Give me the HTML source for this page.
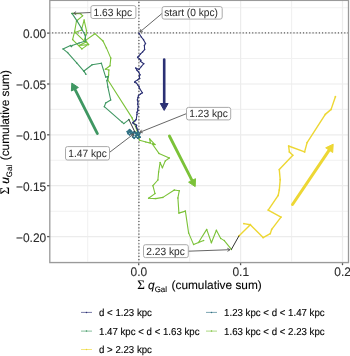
<!DOCTYPE html>
<html><head><meta charset="utf-8"><style>html,body{margin:0;padding:0;background:#fff;}svg{display:block;text-rendering:geometricPrecision;filter:blur(0.25px);}</style></head><body>
<svg width="350" height="356" viewBox="0 0 350 356" font-family='"Liberation Sans", Arial, sans-serif'>
<rect width="350" height="356" fill="#ffffff"/>
<line x1="87.7" y1="0.5" x2="87.7" y2="262.5" stroke="#f1f1f1" stroke-width="1.1"/>
<line x1="189.7" y1="0.5" x2="189.7" y2="262.5" stroke="#f1f1f1" stroke-width="1.1"/>
<line x1="291.6" y1="0.5" x2="291.6" y2="262.5" stroke="#f1f1f1" stroke-width="1.1"/>
<line x1="49.5" y1="7.7" x2="348.5" y2="7.7" stroke="#f1f1f1" stroke-width="1.1"/>
<line x1="49.5" y1="58.5" x2="348.5" y2="58.5" stroke="#f1f1f1" stroke-width="1.1"/>
<line x1="49.5" y1="109.4" x2="348.5" y2="109.4" stroke="#f1f1f1" stroke-width="1.1"/>
<line x1="49.5" y1="160.3" x2="348.5" y2="160.3" stroke="#f1f1f1" stroke-width="1.1"/>
<line x1="49.5" y1="211.2" x2="348.5" y2="211.2" stroke="#f1f1f1" stroke-width="1.1"/>
<line x1="49.5" y1="262.0" x2="348.5" y2="262.0" stroke="#f1f1f1" stroke-width="1.1"/>
<line x1="138.7" y1="0.5" x2="138.7" y2="262.5" stroke="#ececec" stroke-width="1.2"/>
<line x1="240.6" y1="0.5" x2="240.6" y2="262.5" stroke="#ececec" stroke-width="1.2"/>
<line x1="342.5" y1="0.5" x2="342.5" y2="262.5" stroke="#ececec" stroke-width="1.2"/>
<line x1="49.5" y1="33.1" x2="348.5" y2="33.1" stroke="#ececec" stroke-width="1.2"/>
<line x1="49.5" y1="84.0" x2="348.5" y2="84.0" stroke="#ececec" stroke-width="1.2"/>
<line x1="49.5" y1="134.8" x2="348.5" y2="134.8" stroke="#ececec" stroke-width="1.2"/>
<line x1="49.5" y1="185.7" x2="348.5" y2="185.7" stroke="#ececec" stroke-width="1.2"/>
<line x1="49.5" y1="236.6" x2="348.5" y2="236.6" stroke="#ececec" stroke-width="1.2"/>
<line x1="49.5" y1="32.85" x2="348.5" y2="32.85" stroke="#5c5c5c" stroke-width="1.3" stroke-dasharray="1.15 2.025" stroke-dashoffset="0.550"/>
<line x1="138.9" y1="0.5" x2="138.9" y2="262.5" stroke="#5c5c5c" stroke-width="1.3" stroke-dasharray="1.15 2.025" stroke-dashoffset="1.850"/>
<line x1="164.2" y1="59.6" x2="164.2" y2="104.5" stroke="#2b3074" stroke-width="2.6" stroke-linecap="round"/><polygon points="164.2,110.4 160.3,103.5 168.1,103.5" fill="#2b3074" stroke="#2b3074" stroke-width="1" stroke-linejoin="round"/>
<line x1="97.4" y1="133.6" x2="74.5" y2="88.4" stroke="#3f9762" stroke-width="2.8" stroke-linecap="round"/><polygon points="71.8,83.1 78.4,87.5 71.4,91.0" fill="#3f9762" stroke="#3f9762" stroke-width="1" stroke-linejoin="round"/>
<line x1="169.4" y1="136.0" x2="192.5" y2="181.3" stroke="#7bc238" stroke-width="2.8" stroke-linecap="round"/><polygon points="195.2,186.6 188.6,182.2 195.5,178.7" fill="#7bc238" stroke="#7bc238" stroke-width="1" stroke-linejoin="round"/>
<line x1="292.5" y1="204.5" x2="329.7" y2="149.3" stroke="#edd734" stroke-width="3.0" stroke-linecap="round"/><polygon points="333.2,144.2 332.7,152.5 325.7,147.8" fill="#edd734" stroke="#edd734" stroke-width="1" stroke-linejoin="round"/>
<polyline points="72.0,13.4 80.6,13.7 82.6,15.8 76.5,21.0 74.7,31.2 72.6,39.6 81.9,48.9 88.4,44.4 84.8,39.2 86.1,34.5 86.5,30.7 84.1,20.1 81.5,29.9 75.2,32.4 85.6,42.3 79.0,45.5 88.6,44.6 84.9,40.9 94.9,33.7 103.0,41.0 106.4,47.9 110.8,58.1 110.0,65.7 105.4,69.3 108.9,70.0 108.6,75.0 107.9,80.0 132.1,117.9 137.1,130.7 138.4,137.4 139.6,140.3 145.9,142.0 150.4,143.1 149.6,138.9 155.0,144.6 152.1,143.7 159.0,153.4 169.3,158.0 165.3,160.9 162.4,167.7 160.1,162.6 158.6,172.1 157.9,180.0 152.9,185.7 155.0,193.6 148.6,198.3 155.7,198.6 162.9,197.4 174.3,190.0 179.3,190.7 177.9,197.9 178.9,213.1 185.4,211.1 188.6,232.9 193.6,244.6 203.6,240.6 198.5,242.5 206.7,229.4 211.4,242.7 216.4,230.3 220.7,238.4 224.3,240.6 231.4,249.4" fill="none" stroke="#7bc238" stroke-width="1.1" stroke-linejoin="round" stroke-linecap="round"/>
<circle cx="72.0" cy="13.4" r="0.75" fill="#7bc238"/><circle cx="80.6" cy="13.7" r="0.75" fill="#7bc238"/><circle cx="82.6" cy="15.8" r="0.75" fill="#7bc238"/><circle cx="76.5" cy="21.0" r="0.75" fill="#7bc238"/><circle cx="74.7" cy="31.2" r="0.75" fill="#7bc238"/><circle cx="72.6" cy="39.6" r="0.75" fill="#7bc238"/><circle cx="81.9" cy="48.9" r="0.75" fill="#7bc238"/><circle cx="88.4" cy="44.4" r="0.75" fill="#7bc238"/><circle cx="84.8" cy="39.2" r="0.75" fill="#7bc238"/><circle cx="86.1" cy="34.5" r="0.75" fill="#7bc238"/><circle cx="86.5" cy="30.7" r="0.75" fill="#7bc238"/><circle cx="84.1" cy="20.1" r="0.75" fill="#7bc238"/><circle cx="81.5" cy="29.9" r="0.75" fill="#7bc238"/><circle cx="75.2" cy="32.4" r="0.75" fill="#7bc238"/><circle cx="85.6" cy="42.3" r="0.75" fill="#7bc238"/><circle cx="79.0" cy="45.5" r="0.75" fill="#7bc238"/><circle cx="88.6" cy="44.6" r="0.75" fill="#7bc238"/><circle cx="84.9" cy="40.9" r="0.75" fill="#7bc238"/><circle cx="94.9" cy="33.7" r="0.75" fill="#7bc238"/><circle cx="103.0" cy="41.0" r="0.75" fill="#7bc238"/><circle cx="106.4" cy="47.9" r="0.75" fill="#7bc238"/><circle cx="110.8" cy="58.1" r="0.75" fill="#7bc238"/><circle cx="110.0" cy="65.7" r="0.75" fill="#7bc238"/><circle cx="105.4" cy="69.3" r="0.75" fill="#7bc238"/><circle cx="108.9" cy="70.0" r="0.75" fill="#7bc238"/><circle cx="108.6" cy="75.0" r="0.75" fill="#7bc238"/><circle cx="107.9" cy="80.0" r="0.75" fill="#7bc238"/><circle cx="132.1" cy="117.9" r="0.75" fill="#7bc238"/><circle cx="137.1" cy="130.7" r="0.75" fill="#7bc238"/><circle cx="138.4" cy="137.4" r="0.75" fill="#7bc238"/><circle cx="139.6" cy="140.3" r="0.75" fill="#7bc238"/><circle cx="145.9" cy="142.0" r="0.75" fill="#7bc238"/><circle cx="150.4" cy="143.1" r="0.75" fill="#7bc238"/><circle cx="149.6" cy="138.9" r="0.75" fill="#7bc238"/><circle cx="155.0" cy="144.6" r="0.75" fill="#7bc238"/><circle cx="152.1" cy="143.7" r="0.75" fill="#7bc238"/><circle cx="159.0" cy="153.4" r="0.75" fill="#7bc238"/><circle cx="169.3" cy="158.0" r="0.75" fill="#7bc238"/><circle cx="165.3" cy="160.9" r="0.75" fill="#7bc238"/><circle cx="162.4" cy="167.7" r="0.75" fill="#7bc238"/><circle cx="160.1" cy="162.6" r="0.75" fill="#7bc238"/><circle cx="158.6" cy="172.1" r="0.75" fill="#7bc238"/><circle cx="157.9" cy="180.0" r="0.75" fill="#7bc238"/><circle cx="152.9" cy="185.7" r="0.75" fill="#7bc238"/><circle cx="155.0" cy="193.6" r="0.75" fill="#7bc238"/><circle cx="148.6" cy="198.3" r="0.75" fill="#7bc238"/><circle cx="155.7" cy="198.6" r="0.75" fill="#7bc238"/><circle cx="162.9" cy="197.4" r="0.75" fill="#7bc238"/><circle cx="174.3" cy="190.0" r="0.75" fill="#7bc238"/><circle cx="179.3" cy="190.7" r="0.75" fill="#7bc238"/><circle cx="177.9" cy="197.9" r="0.75" fill="#7bc238"/><circle cx="178.9" cy="213.1" r="0.75" fill="#7bc238"/><circle cx="185.4" cy="211.1" r="0.75" fill="#7bc238"/><circle cx="188.6" cy="232.9" r="0.75" fill="#7bc238"/><circle cx="193.6" cy="244.6" r="0.75" fill="#7bc238"/><circle cx="203.6" cy="240.6" r="0.75" fill="#7bc238"/><circle cx="198.5" cy="242.5" r="0.75" fill="#7bc238"/><circle cx="206.7" cy="229.4" r="0.75" fill="#7bc238"/><circle cx="211.4" cy="242.7" r="0.75" fill="#7bc238"/><circle cx="216.4" cy="230.3" r="0.75" fill="#7bc238"/><circle cx="220.7" cy="238.4" r="0.75" fill="#7bc238"/><circle cx="224.3" cy="240.6" r="0.75" fill="#7bc238"/><circle cx="231.4" cy="249.4" r="0.75" fill="#7bc238"/>
<polyline points="128.9,119.6 123.8,123.6 122.0,122.1 104.3,106.7 105.7,102.9 110.7,100.0 107.9,87.1 106.9,80.7 108.3,76.4 105.7,77.1 101.4,63.3 92.1,64.7 84.0,71.0 85.9,74.3 83.6,70.9 76.7,62.9 67.6,52.6 63.0,48.9 70.5,45.5 71.4,46.6 72.2,45.5 79.1,43.0 85.6,40.9 85.3,35.8 81.3,28.0 77.0,20.9 72.0,13.4" fill="none" stroke="#3f9762" stroke-width="1.1" stroke-linejoin="round" stroke-linecap="round"/>
<circle cx="128.9" cy="119.6" r="0.75" fill="#3f9762"/><circle cx="123.8" cy="123.6" r="0.75" fill="#3f9762"/><circle cx="122.0" cy="122.1" r="0.75" fill="#3f9762"/><circle cx="104.3" cy="106.7" r="0.75" fill="#3f9762"/><circle cx="105.7" cy="102.9" r="0.75" fill="#3f9762"/><circle cx="110.7" cy="100.0" r="0.75" fill="#3f9762"/><circle cx="107.9" cy="87.1" r="0.75" fill="#3f9762"/><circle cx="106.9" cy="80.7" r="0.75" fill="#3f9762"/><circle cx="108.3" cy="76.4" r="0.75" fill="#3f9762"/><circle cx="105.7" cy="77.1" r="0.75" fill="#3f9762"/><circle cx="101.4" cy="63.3" r="0.75" fill="#3f9762"/><circle cx="92.1" cy="64.7" r="0.75" fill="#3f9762"/><circle cx="84.0" cy="71.0" r="0.75" fill="#3f9762"/><circle cx="85.9" cy="74.3" r="0.75" fill="#3f9762"/><circle cx="83.6" cy="70.9" r="0.75" fill="#3f9762"/><circle cx="76.7" cy="62.9" r="0.75" fill="#3f9762"/><circle cx="67.6" cy="52.6" r="0.75" fill="#3f9762"/><circle cx="63.0" cy="48.9" r="0.75" fill="#3f9762"/><circle cx="70.5" cy="45.5" r="0.75" fill="#3f9762"/><circle cx="71.4" cy="46.6" r="0.75" fill="#3f9762"/><circle cx="72.2" cy="45.5" r="0.75" fill="#3f9762"/><circle cx="79.1" cy="43.0" r="0.75" fill="#3f9762"/><circle cx="85.6" cy="40.9" r="0.75" fill="#3f9762"/><circle cx="85.3" cy="35.8" r="0.75" fill="#3f9762"/><circle cx="81.3" cy="28.0" r="0.75" fill="#3f9762"/><circle cx="77.0" cy="20.9" r="0.75" fill="#3f9762"/><circle cx="72.0" cy="13.4" r="0.75" fill="#3f9762"/>
<polyline points="139.0,33.3 141.3,37.0 143.5,39.7 145.5,43.5 144.4,45.6 144.6,49.6 142.6,51.9 140.4,54.1 138.1,56.8 137.6,57.6 139.5,58.9 140.9,60.3 140.4,61.3 143.8,63.7 141.4,66.5 139.0,69.4 135.7,68.0 137.1,70.4 138.5,71.8 140.0,74.7 139.3,76.6 139.7,78.5 137.6,79.9 135.2,81.4 134.7,82.3 136.6,83.3 137.6,84.7 139.0,86.6 139.5,88.4 142.4,92.7 140.4,94.1 138.5,95.6 138.0,97.5 137.4,99.9 138.0,101.8 137.6,104.2 138.3,106.6 137.6,109.0 138.0,110.4 137.0,112.2 137.0,114.4 136.2,119.5 134.8,121.0 132.9,122.4 133.3,123.5 135.5,124.6 136.6,125.3 136.2,126.4 136.9,128.2 137.7,130.1 138.0,131.9" fill="none" stroke="#2b3074" stroke-width="1.1" stroke-linejoin="round" stroke-linecap="round"/>
<circle cx="139.0" cy="33.3" r="0.75" fill="#2b3074"/><circle cx="141.3" cy="37.0" r="0.75" fill="#2b3074"/><circle cx="143.5" cy="39.7" r="0.75" fill="#2b3074"/><circle cx="145.5" cy="43.5" r="0.75" fill="#2b3074"/><circle cx="144.4" cy="45.6" r="0.75" fill="#2b3074"/><circle cx="144.6" cy="49.6" r="0.75" fill="#2b3074"/><circle cx="142.6" cy="51.9" r="0.75" fill="#2b3074"/><circle cx="140.4" cy="54.1" r="0.75" fill="#2b3074"/><circle cx="138.1" cy="56.8" r="0.75" fill="#2b3074"/><circle cx="137.6" cy="57.6" r="0.75" fill="#2b3074"/><circle cx="139.5" cy="58.9" r="0.75" fill="#2b3074"/><circle cx="140.9" cy="60.3" r="0.75" fill="#2b3074"/><circle cx="140.4" cy="61.3" r="0.75" fill="#2b3074"/><circle cx="143.8" cy="63.7" r="0.75" fill="#2b3074"/><circle cx="141.4" cy="66.5" r="0.75" fill="#2b3074"/><circle cx="139.0" cy="69.4" r="0.75" fill="#2b3074"/><circle cx="135.7" cy="68.0" r="0.75" fill="#2b3074"/><circle cx="137.1" cy="70.4" r="0.75" fill="#2b3074"/><circle cx="138.5" cy="71.8" r="0.75" fill="#2b3074"/><circle cx="140.0" cy="74.7" r="0.75" fill="#2b3074"/><circle cx="139.3" cy="76.6" r="0.75" fill="#2b3074"/><circle cx="139.7" cy="78.5" r="0.75" fill="#2b3074"/><circle cx="137.6" cy="79.9" r="0.75" fill="#2b3074"/><circle cx="135.2" cy="81.4" r="0.75" fill="#2b3074"/><circle cx="134.7" cy="82.3" r="0.75" fill="#2b3074"/><circle cx="136.6" cy="83.3" r="0.75" fill="#2b3074"/><circle cx="137.6" cy="84.7" r="0.75" fill="#2b3074"/><circle cx="139.0" cy="86.6" r="0.75" fill="#2b3074"/><circle cx="139.5" cy="88.4" r="0.75" fill="#2b3074"/><circle cx="142.4" cy="92.7" r="0.75" fill="#2b3074"/><circle cx="140.4" cy="94.1" r="0.75" fill="#2b3074"/><circle cx="138.5" cy="95.6" r="0.75" fill="#2b3074"/><circle cx="138.0" cy="97.5" r="0.75" fill="#2b3074"/><circle cx="137.4" cy="99.9" r="0.75" fill="#2b3074"/><circle cx="138.0" cy="101.8" r="0.75" fill="#2b3074"/><circle cx="137.6" cy="104.2" r="0.75" fill="#2b3074"/><circle cx="138.3" cy="106.6" r="0.75" fill="#2b3074"/><circle cx="137.6" cy="109.0" r="0.75" fill="#2b3074"/><circle cx="138.0" cy="110.4" r="0.75" fill="#2b3074"/><circle cx="137.0" cy="112.2" r="0.75" fill="#2b3074"/><circle cx="137.0" cy="114.4" r="0.75" fill="#2b3074"/><circle cx="136.2" cy="119.5" r="0.75" fill="#2b3074"/><circle cx="134.8" cy="121.0" r="0.75" fill="#2b3074"/><circle cx="132.9" cy="122.4" r="0.75" fill="#2b3074"/><circle cx="133.3" cy="123.5" r="0.75" fill="#2b3074"/><circle cx="135.5" cy="124.6" r="0.75" fill="#2b3074"/><circle cx="136.6" cy="125.3" r="0.75" fill="#2b3074"/><circle cx="136.2" cy="126.4" r="0.75" fill="#2b3074"/><circle cx="136.9" cy="128.2" r="0.75" fill="#2b3074"/><circle cx="137.7" cy="130.1" r="0.75" fill="#2b3074"/><circle cx="138.0" cy="131.9" r="0.75" fill="#2b3074"/>
<polyline points="138.0,131.9 139.8,133.6 138.6,135.8 140.2,137.2 137.8,138.2 135.8,136.6 134.2,138.3 132.6,136.8 133.6,135.0 132.2,133.8 134.6,132.6 136.6,134.4 135.4,135.8 137.4,135.2 138.8,134.6 136.8,133.0 133.4,132.2 131.0,133.4 129.6,134.8 128.0,133.6 127.2,131.6 129.2,130.2 130.4,132.0 128.8,132.6 129.6,129.6 131.0,130.8 133.0,133.4 134.8,131.8" fill="none" stroke="#317184" stroke-width="1.3" stroke-linejoin="round" stroke-linecap="round"/>
<circle cx="138.0" cy="131.9" r="0.85" fill="#317184"/><circle cx="139.8" cy="133.6" r="0.85" fill="#317184"/><circle cx="138.6" cy="135.8" r="0.85" fill="#317184"/><circle cx="140.2" cy="137.2" r="0.85" fill="#317184"/><circle cx="137.8" cy="138.2" r="0.85" fill="#317184"/><circle cx="135.8" cy="136.6" r="0.85" fill="#317184"/><circle cx="134.2" cy="138.3" r="0.85" fill="#317184"/><circle cx="132.6" cy="136.8" r="0.85" fill="#317184"/><circle cx="133.6" cy="135.0" r="0.85" fill="#317184"/><circle cx="132.2" cy="133.8" r="0.85" fill="#317184"/><circle cx="134.6" cy="132.6" r="0.85" fill="#317184"/><circle cx="136.6" cy="134.4" r="0.85" fill="#317184"/><circle cx="135.4" cy="135.8" r="0.85" fill="#317184"/><circle cx="137.4" cy="135.2" r="0.85" fill="#317184"/><circle cx="138.8" cy="134.6" r="0.85" fill="#317184"/><circle cx="136.8" cy="133.0" r="0.85" fill="#317184"/><circle cx="133.4" cy="132.2" r="0.85" fill="#317184"/><circle cx="131.0" cy="133.4" r="0.85" fill="#317184"/><circle cx="129.6" cy="134.8" r="0.85" fill="#317184"/><circle cx="128.0" cy="133.6" r="0.85" fill="#317184"/><circle cx="127.2" cy="131.6" r="0.85" fill="#317184"/><circle cx="129.2" cy="130.2" r="0.85" fill="#317184"/><circle cx="130.4" cy="132.0" r="0.85" fill="#317184"/><circle cx="128.8" cy="132.6" r="0.85" fill="#317184"/><circle cx="129.6" cy="129.6" r="0.85" fill="#317184"/><circle cx="131.0" cy="130.8" r="0.85" fill="#317184"/><circle cx="133.0" cy="133.4" r="0.85" fill="#317184"/><circle cx="134.8" cy="131.8" r="0.85" fill="#317184"/>
<polyline points="238.9,236.0 250.3,224.7 243.9,223.6 250.3,224.7 263.1,237.6 270.3,233.6 271.7,229.3 281.0,217.1 268.2,210.1 278.2,195.4 279.3,190.0 280.2,179.7 279.3,169.6 292.8,155.3 289.4,151.9 288.6,146.0 304.6,151.9 307.1,142.6 325.3,114.4 331.1,109.4 335.4,96.7" fill="none" stroke="#edd734" stroke-width="1.4" stroke-linejoin="round" stroke-linecap="round"/>
<circle cx="238.9" cy="236.0" r="0.85" fill="#edd734"/><circle cx="250.3" cy="224.7" r="0.85" fill="#edd734"/><circle cx="243.9" cy="223.6" r="0.85" fill="#edd734"/><circle cx="250.3" cy="224.7" r="0.85" fill="#edd734"/><circle cx="263.1" cy="237.6" r="0.85" fill="#edd734"/><circle cx="270.3" cy="233.6" r="0.85" fill="#edd734"/><circle cx="271.7" cy="229.3" r="0.85" fill="#edd734"/><circle cx="281.0" cy="217.1" r="0.85" fill="#edd734"/><circle cx="268.2" cy="210.1" r="0.85" fill="#edd734"/><circle cx="278.2" cy="195.4" r="0.85" fill="#edd734"/><circle cx="279.3" cy="190.0" r="0.85" fill="#edd734"/><circle cx="280.2" cy="179.7" r="0.85" fill="#edd734"/><circle cx="279.3" cy="169.6" r="0.85" fill="#edd734"/><circle cx="292.8" cy="155.3" r="0.85" fill="#edd734"/><circle cx="289.4" cy="151.9" r="0.85" fill="#edd734"/><circle cx="288.6" cy="146.0" r="0.85" fill="#edd734"/><circle cx="304.6" cy="151.9" r="0.85" fill="#edd734"/><circle cx="307.1" cy="142.6" r="0.85" fill="#edd734"/><circle cx="325.3" cy="114.4" r="0.85" fill="#edd734"/><circle cx="331.1" cy="109.4" r="0.85" fill="#edd734"/><circle cx="335.4" cy="96.7" r="0.85" fill="#edd734"/>
<polyline points="134.8,131.8 128.9,119.6" fill="none" stroke="#333333" stroke-width="1.0" stroke-linejoin="round" stroke-linecap="round"/>
<polyline points="231.4,249.4 238.9,236.0" fill="none" stroke="#333333" stroke-width="1.0" stroke-linejoin="round" stroke-linecap="round"/>
<line x1="90.9" y1="12.5" x2="73.6" y2="13.3" stroke="#555555" stroke-width="0.9"/><polyline points="76.1,11.6 73.6,13.3 76.3,14.8" fill="none" stroke="#555555" stroke-width="0.9"/>
<line x1="162.1" y1="13.4" x2="139.9" y2="32.0" stroke="#555555" stroke-width="0.9"/><polyline points="140.9,29.1 139.9,32.0 142.9,31.6" fill="none" stroke="#555555" stroke-width="0.9"/>
<line x1="186.5" y1="113.6" x2="139.8" y2="132.3" stroke="#555555" stroke-width="0.9"/><polyline points="141.6,129.8 139.8,132.3 142.8,132.8" fill="none" stroke="#555555" stroke-width="0.9"/>
<line x1="109.5" y1="152.4" x2="133.6" y2="134.0" stroke="#555555" stroke-width="0.9"/><polyline points="132.5,136.8 133.6,134.0 130.6,134.3" fill="none" stroke="#555555" stroke-width="0.9"/>
<line x1="188.3" y1="251.2" x2="230.0" y2="249.7" stroke="#555555" stroke-width="0.9"/><polyline points="227.5,251.4 230.0,249.7 227.3,248.2" fill="none" stroke="#555555" stroke-width="0.9"/>
<rect x="90.9" y="5.6" width="45.0" height="12.9" rx="2" ry="2" fill="#ffffff" stroke="#a0a0a0" stroke-width="0.9"/><text transform="translate(93.60,15.60) scale(0.97,1)" font-size="10.5" fill="#303030" stroke="#303030" stroke-width="0.04">1.63 kpc</text>
<rect x="162.1" y="6.6" width="60.1" height="12.5" rx="2" ry="2" fill="#ffffff" stroke="#a0a0a0" stroke-width="0.9"/><text transform="translate(164.20,16.40) scale(0.97,1)" font-size="10.5" fill="#303030" stroke="#303030" stroke-width="0.04">start (0 kpc)</text>
<rect x="186.5" y="107.4" width="44.2" height="12.5" rx="2" ry="2" fill="#ffffff" stroke="#a0a0a0" stroke-width="0.9"/><text transform="translate(189.30,117.00) scale(0.97,1)" font-size="10.5" fill="#303030" stroke="#303030" stroke-width="0.04">1.23 kpc</text>
<rect x="65.5" y="146.6" width="44.0" height="13.4" rx="2" ry="2" fill="#ffffff" stroke="#a0a0a0" stroke-width="0.9"/><text transform="translate(68.30,157.10) scale(0.97,1)" font-size="10.5" fill="#303030" stroke="#303030" stroke-width="0.04">1.47 kpc</text>
<rect x="143.5" y="244.7" width="44.8" height="12.9" rx="2" ry="2" fill="#ffffff" stroke="#a0a0a0" stroke-width="0.9"/><text transform="translate(146.30,254.60) scale(0.97,1)" font-size="10.5" fill="#303030" stroke="#303030" stroke-width="0.04">2.23 kpc</text>
<rect x="49.8" y="0.4" width="298.7" height="262.2" fill="none" stroke="#9a9a9a" stroke-width="1.3"/>
<line x1="47.1" y1="33.1" x2="49.5" y2="33.1" stroke="#555" stroke-width="1.3"/>
<line x1="47.1" y1="84.0" x2="49.5" y2="84.0" stroke="#555" stroke-width="1.3"/>
<line x1="47.1" y1="134.8" x2="49.5" y2="134.8" stroke="#555" stroke-width="1.3"/>
<line x1="47.1" y1="185.7" x2="49.5" y2="185.7" stroke="#555" stroke-width="1.3"/>
<line x1="47.1" y1="236.6" x2="49.5" y2="236.6" stroke="#555" stroke-width="1.3"/>
<line x1="138.7" y1="263.2" x2="138.7" y2="265.2" stroke="#555" stroke-width="1.3"/>
<line x1="240.6" y1="263.2" x2="240.6" y2="265.2" stroke="#555" stroke-width="1.3"/>
<line x1="342.5" y1="263.2" x2="342.5" y2="265.2" stroke="#555" stroke-width="1.3"/>
<text transform="translate(46.2,38.00) scale(0.965,1)" font-size="12.4" fill="#2e2e2e" stroke="#2e2e2e" stroke-width="0.1" text-anchor="end">0.00</text>
<text transform="translate(46.2,88.88) scale(0.965,1)" font-size="12.4" fill="#2e2e2e" stroke="#2e2e2e" stroke-width="0.1" text-anchor="end">−0.05</text>
<text transform="translate(46.2,139.75) scale(0.965,1)" font-size="12.4" fill="#2e2e2e" stroke="#2e2e2e" stroke-width="0.1" text-anchor="end">−0.10</text>
<text transform="translate(46.2,190.62) scale(0.965,1)" font-size="12.4" fill="#2e2e2e" stroke="#2e2e2e" stroke-width="0.1" text-anchor="end">−0.15</text>
<text transform="translate(46.2,241.50) scale(0.965,1)" font-size="12.4" fill="#2e2e2e" stroke="#2e2e2e" stroke-width="0.1" text-anchor="end">−0.20</text>
<text transform="translate(138.80,276.2) scale(0.965,1)" font-size="12.4" fill="#2e2e2e" stroke="#2e2e2e" stroke-width="0.1" text-anchor="middle">0.0</text>
<text transform="translate(240.72,276.2) scale(0.965,1)" font-size="12.4" fill="#2e2e2e" stroke="#2e2e2e" stroke-width="0.1" text-anchor="middle">0.1</text>
<text transform="translate(342.64,276.2) scale(0.965,1)" font-size="12.4" fill="#2e2e2e" stroke="#2e2e2e" stroke-width="0.1" text-anchor="middle">0.2</text>
<text x="137.2" y="289.0" font-size="11.85" fill="#000" stroke="#000" stroke-width="0.1"><tspan font-family='"Liberation Serif", serif' font-size="13.0">Σ</tspan> <tspan font-style="italic">q</tspan><tspan font-size="7.9" dy="2.6">Gal</tspan><tspan dy="-2.6" dx="1.3"> (cumulative sum)</tspan></text>
<text transform="translate(9.4,194.6) rotate(-90)" font-size="11.85" fill="#000" stroke="#000" stroke-width="0.1"><tspan font-family='"Liberation Serif", serif' font-size="13.0">Σ</tspan> <tspan font-style="italic">u</tspan><tspan font-size="7.9" dy="2.6">Gal</tspan><tspan dy="-2.6" dx="1.3"> (cumulative sum)</tspan></text>
<line x1="81" y1="312.4" x2="92" y2="312.4" stroke="#2b3074" stroke-width="0.8" stroke-opacity="0.8"/>
<circle cx="86.5" cy="312.4" r="0.75" fill="#2b3074"/>
<text transform="translate(99.0,315.9) scale(0.955,1)" font-size="10.15" fill="#000" stroke="#000" stroke-width="0.12">d &lt; 1.23 kpc</text>
<line x1="206" y1="312.4" x2="217" y2="312.4" stroke="#317184" stroke-width="0.8" stroke-opacity="0.8"/>
<circle cx="211.5" cy="312.4" r="0.75" fill="#317184"/>
<text transform="translate(224.1,315.9) scale(0.955,1)" font-size="10.15" fill="#000" stroke="#000" stroke-width="0.12">1.23 kpc &lt; d &lt; 1.47 kpc</text>
<line x1="81" y1="331.1" x2="92" y2="331.1" stroke="#3f9762" stroke-width="0.8" stroke-opacity="0.8"/>
<circle cx="86.5" cy="331.1" r="0.75" fill="#3f9762"/>
<text transform="translate(99.0,334.6) scale(0.955,1)" font-size="10.15" fill="#000" stroke="#000" stroke-width="0.12">1.47 kpc &lt; d &lt; 1.63 kpc</text>
<line x1="206" y1="331.1" x2="217" y2="331.1" stroke="#7bc238" stroke-width="0.8" stroke-opacity="0.8"/>
<circle cx="211.5" cy="331.1" r="0.75" fill="#7bc238"/>
<text transform="translate(224.1,334.6) scale(0.955,1)" font-size="10.15" fill="#000" stroke="#000" stroke-width="0.12">1.63 kpc &lt; d &lt; 2.23 kpc</text>
<line x1="81" y1="349.5" x2="92" y2="349.5" stroke="#edd734" stroke-width="0.8" stroke-opacity="0.8"/>
<circle cx="86.5" cy="349.5" r="0.75" fill="#edd734"/>
<text transform="translate(99.0,353.0) scale(0.955,1)" font-size="10.15" fill="#000" stroke="#000" stroke-width="0.12">d &gt; 2.23 kpc</text>
</svg>
</body></html>
